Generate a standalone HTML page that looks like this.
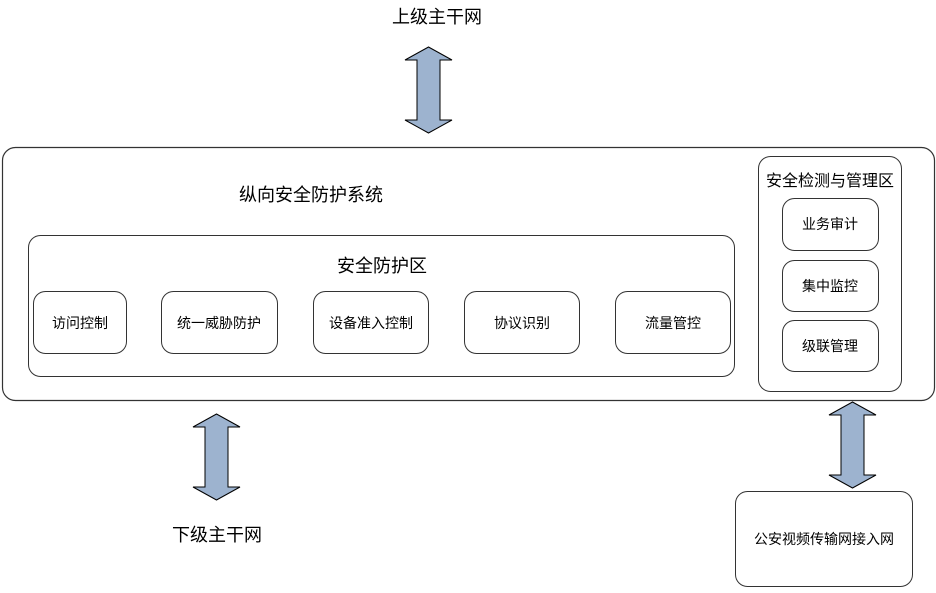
<!DOCTYPE html><html><head><meta charset="utf-8"><style>
body{margin:0;width:936px;height:588px;background:#fff;overflow:hidden}
text{font-family:"Liberation Sans","Noto Sans CJK SC",sans-serif;fill:#000}
</style></head><body>
<svg width="936" height="588" xmlns="http://www.w3.org/2000/svg">
<defs><g id="arr"><polygon points="23.5,0 47,13 35,13 35,73 47,73 23.5,86 0,73 12,73 12,13 0,13" fill="#9db3cf" stroke="#000" stroke-width="1"/></g></defs>
<text x="437" y="23" font-size="18" text-anchor="middle">上级主干网</text>
<use href="#arr" x="405" y="47"/>
<rect x="2.5" y="147.5" width="932" height="253" rx="13" fill="none" stroke="#333" stroke-width="1.2"/>
<text x="311" y="201" font-size="18" text-anchor="middle">纵向安全防护系统</text>
<rect x="28.5" y="235.5" width="706" height="141" rx="12" fill="none" stroke="#333"/>
<text x="382" y="272" font-size="18" text-anchor="middle">安全防护区</text>
<g fill="none" stroke="#333">
<rect x="33.5" y="291.5" width="93" height="62" rx="12"/>
<rect x="161.5" y="291.5" width="116" height="62" rx="12"/>
<rect x="313.5" y="291.5" width="115" height="62" rx="12"/>
<rect x="464.5" y="291.5" width="115" height="62" rx="12"/>
<rect x="615.5" y="291.5" width="115" height="62" rx="12"/>
<rect x="758.5" y="156.5" width="143" height="235" rx="12"/>
<rect x="782.5" y="198.5" width="96" height="52" rx="12"/>
<rect x="782.5" y="260.5" width="96" height="51" rx="12"/>
<rect x="782.5" y="320.5" width="96" height="51" rx="12"/>
<rect x="735.5" y="491.5" width="177" height="95" rx="12"/>
</g>
<g font-size="14" text-anchor="middle">
<text x="80" y="328">访问控制</text>
<text x="219" y="328">统一威胁防护</text>
<text x="371" y="328">设备准入控制</text>
<text x="522" y="328">协议识别</text>
<text x="673" y="328">流量管控</text>
<text x="830" y="229">业务审计</text>
<text x="830" y="291">集中监控</text>
<text x="830" y="351">级联管理</text>
<text x="824" y="544">公安视频传输网接入网</text>
</g>
<text x="830" y="186" font-size="16" text-anchor="middle">安全检测与管理区</text>
<use href="#arr" x="193" y="414"/>
<use href="#arr" x="829" y="402"/>
<text x="217" y="541" font-size="18" text-anchor="middle">下级主干网</text>
</svg>
</body></html>
